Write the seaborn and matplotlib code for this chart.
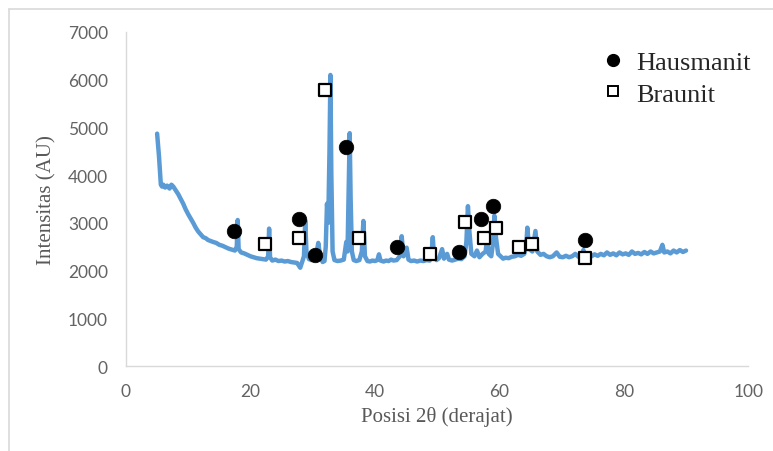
import matplotlib
matplotlib.use("Agg")
import matplotlib.pyplot as plt
from matplotlib.lines import Line2D
import seaborn as sns
import pandas as pd

# XRD pattern (2theta in degrees, intensity in AU)
two_theta = [
    5.0, 5.3, 5.6, 5.8, 6.0, 6.3, 6.6, 7.0, 7.3, 7.6, 8.0, 8.4, 8.8, 9.2, 9.6,
    10.0, 10.4, 10.8, 11.2, 11.6, 12.0, 12.4, 12.8, 13.2, 13.6, 14.0, 14.5, 15.0,
    15.5, 16.0, 16.5, 17.0, 17.5, 17.8, 17.95, 18.1, 18.5, 19.0, 19.5, 20.0, 20.5,
    21.0, 21.5, 22.0, 22.5, 22.85, 23.0, 23.15, 23.5, 24.0, 24.5, 25.0, 25.5, 26.0,
    26.5, 27.0, 27.5, 28.0, 28.3, 28.6, 28.8, 29.0, 29.4, 29.8, 30.3, 30.6, 30.9,
    31.2, 31.6, 31.9, 32.1, 32.3, 32.5, 32.7, 32.85, 33.0, 33.2, 33.5, 34.0, 34.5,
    35.0, 35.4, 35.6, 35.8, 35.95, 36.1, 36.3, 36.6, 37.0, 37.5, 37.9, 38.15, 38.4,
    38.8, 39.2, 39.6, 40.0, 40.4, 40.65, 40.9, 41.4, 41.8, 42.2, 42.6, 43.0, 43.5,
    44.0, 44.3, 44.6, 45.1, 45.4, 45.8, 46.3, 46.8, 47.3, 47.8, 48.3, 48.8, 49.1,
    49.3, 49.5, 49.9, 50.3, 50.8, 51.1, 51.6, 51.9, 52.4, 52.9, 53.4, 53.9, 54.4,
    54.7, 54.95, 55.2, 55.5, 56.0, 56.4, 56.8, 57.3, 57.8, 58.0, 58.3, 58.7, 59.0,
    59.2, 59.45, 59.8, 60.2, 60.6, 61.0, 61.5, 62.0, 62.5, 63.0, 63.5, 64.0, 64.3,
    64.5, 64.8, 65.3, 65.8, 66.1, 66.6, 67.1, 67.6, 68.1, 68.6, 69.2, 69.7, 70.2,
    70.7, 71.2, 71.7, 72.2, 72.7, 73.2, 73.5, 73.8, 74.3, 74.8, 75.3, 75.8, 76.3,
    76.8, 77.3, 77.8, 78.3, 78.8, 79.3, 79.8, 80.3, 80.8, 81.3, 81.8, 82.3, 82.8,
    83.3, 83.8, 84.3, 84.8, 85.3, 85.8, 86.2, 86.5, 87.0, 87.5, 88.0, 88.5, 89.0,
    89.5, 90.0,
]
intensity = [
    4870, 4400, 3800, 3760, 3800, 3740, 3780, 3720, 3800, 3760, 3680, 3600, 3500,
    3400, 3280, 3180, 3090, 3000, 2900, 2820, 2760, 2700, 2680, 2640, 2620, 2600,
    2580, 2540, 2520, 2490, 2460, 2440, 2420, 2500, 3060, 2450, 2380, 2360, 2330,
    2300, 2280, 2260, 2250, 2240, 2230, 2300, 2880, 2280, 2210, 2230, 2200, 2210,
    2190, 2200, 2180, 2170, 2160, 2060, 2180, 2300, 3050, 2400, 2240, 2220, 2250,
    2350, 2580, 2300, 2180, 2200, 2500, 3400, 3000, 4500, 6100, 4000, 2400, 2220,
    2200, 2210, 2230, 2600, 2400, 3800, 4880, 3500, 2400, 2220, 2200, 2220, 2400,
    3040, 2300, 2200, 2190, 2210, 2200, 2220, 2340, 2210, 2190, 2210, 2200, 2230,
    2210, 2220, 2300, 2720, 2300, 2480, 2230, 2200, 2210, 2190, 2210, 2200, 2220,
    2210, 2350, 2700, 2300, 2220, 2260, 2450, 2250, 2350, 2230, 2210, 2230, 2250,
    2240, 2300, 2600, 3350, 2800, 2350, 2300, 2420, 2280, 2350, 2400, 2660, 2350,
    2300, 2600, 3150, 2700, 2350, 2300, 2250, 2270, 2260, 2290, 2300, 2330, 2310,
    2350, 2500, 2900, 2450, 2400, 2830, 2400, 2330, 2350, 2300, 2280, 2300, 2380,
    2290, 2280, 2310, 2280, 2300, 2350, 2290, 2310, 2430, 2300, 2320, 2300, 2340,
    2310, 2350, 2320, 2380, 2330, 2360, 2320, 2380, 2340, 2360, 2330, 2400, 2350,
    2370, 2340, 2390, 2350, 2400, 2360, 2380, 2400, 2540, 2380, 2400, 2360, 2420,
    2380, 2430, 2390, 2420,
]

# phase markers
hausmanit_x = [17.4, 27.8, 30.4, 35.4, 43.6, 53.5, 57.1, 59.0, 73.8]
hausmanit_y = [2830, 3080, 2330, 4590, 2495, 2390, 3080, 3360, 2650]
braunit_x = [22.3, 27.8, 32.0, 37.5, 48.9, 54.5, 57.5, 59.4, 63.2, 65.2, 73.8]
braunit_y = [2560, 2680, 5790, 2680, 2350, 3020, 2680, 2900, 2490, 2565, 2265]

x_ticks = [0, 20, 40, 60, 80, 100]
y_ticks = [0, 1000, 2000, 3000, 4000, 5000, 6000, 7000]

sns.set_style("white")
plt.rcParams['font.family'] = ['Liberation Serif', 'DejaVu Serif']

fig = plt.figure(figsize=(7.73, 4.52), dpi=100)
ax = fig.add_axes([0.163, 0.188, 0.805, 0.739])

xrd = pd.DataFrame({'two_theta': two_theta, 'intensity': intensity})
sns.lineplot(data=xrd, x='two_theta', y='intensity', ax=ax, color='#5b9bd5',
             linewidth=3.2, estimator=None, sort=False)

sns.scatterplot(x=hausmanit_x, y=hausmanit_y, ax=ax, marker='o', s=110,
                color='black', edgecolor='black', linewidth=0.5, zorder=5)
sns.scatterplot(x=braunit_x, y=braunit_y, ax=ax, marker='s', s=75,
                color='white', edgecolor='black', linewidth=1.6, zorder=5)

ax.set_xlim(0, 100)
ax.set_ylim(0, 7000)
ax.set_xticks(x_ticks)
ax.set_yticks(y_ticks)
ax.tick_params(axis='both', length=0, labelsize=12.5, labelcolor='#636363')
ax.tick_params(axis='x', pad=12)
ax.tick_params(axis='y', pad=13)
for lbl in ax.get_xticklabels() + ax.get_yticklabels():
    lbl.set_family(['Lato', 'DejaVu Sans'])
ax.set_xlabel('Posisi 2θ (derajat)', fontsize=15, color='#595959', labelpad=5)
ax.set_ylabel('Intensitas (AU)', fontsize=15, color='#595959', labelpad=8)

for side in ['top', 'right']:
    ax.spines[side].set_visible(False)
for side in ['left', 'bottom']:
    ax.spines[side].set_color('#d9d9d9')
    ax.spines[side].set_linewidth(1.0)

handles = [
    Line2D([], [], marker='o', linestyle='none', color='black', markersize=8.5),
    Line2D([], [], marker='s', linestyle='none', markerfacecolor='white',
           markeredgecolor='black', markeredgewidth=1.4, markersize=7),
]
fig.legend(handles, ['Hausmanit', 'Braunit'], loc='upper left',
           bbox_to_anchor=(0.772, 0.885), frameon=False, fontsize=19,
           handlelength=1.2, handletextpad=0.3, labelspacing=0.29,
           borderpad=0, borderaxespad=0)

# light frame around the picture
fig.add_artist(Line2D([9 / 773, 1.0], [1 - 10 / 452, 1 - 10 / 452],
                      color='#d9d9d9', linewidth=1.2))
fig.add_artist(Line2D([9 / 773, 9 / 773], [0.0, 1 - 10 / 452],
                      color='#d9d9d9', linewidth=1.2))

fig.savefig('out.png', dpi=100)
